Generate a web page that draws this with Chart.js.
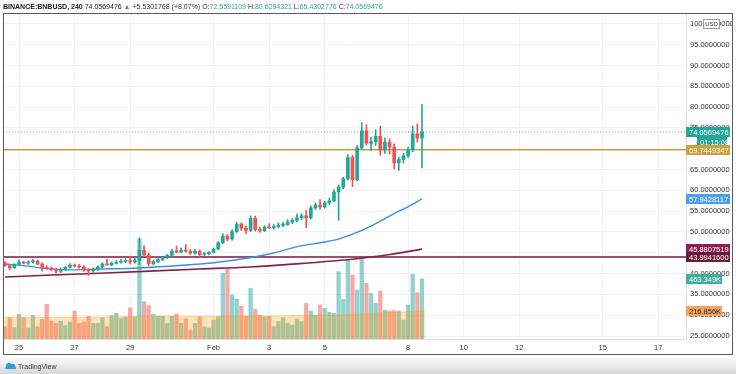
<!DOCTYPE html>
<html>
<head>
<meta charset="utf-8">
<script src="https://cdn.jsdelivr.net/npm/chart.js@4.4.0/dist/chart.umd.min.js"></script>
<style>
  html, body { margin: 0; padding: 0; background: #fff; }
  #wrap { width: 736px; height: 374px; }
</style>
</head>
<body>
<div id="wrap"><canvas id="bnbCanvas" width="736" height="374"></canvas></div>
<script>
// 240-minute candles, first one at Jan 24 12:00 (day -0.5, day 0 = Jan 25 00:00)
const firstCandleDay = -0.5;
const candleStepDays = 1 / 6;

const candleOpen = [
  42.6, 41.9, 41.4, 42.2, 42.7, 42.5, 42.8, 43.0, 42.3, 41.5,
  41.2, 40.9, 40.6, 41.0, 41.5, 42.0, 41.8, 41.6, 40.9, 40.7,
  41.1, 41.6, 42.3, 42.1, 42.5, 42.7, 42.9, 43.1, 42.8, 43.2,
  45.6, 44.5, 42.4, 42.9, 43.4, 43.9, 44.4, 45.4, 45.2, 45.6,
  45.4, 44.9, 45.4, 44.6, 44.8, 45.1, 45.9, 47.4, 49.0, 48.3,
  50.1, 51.9, 50.9, 50.4, 53.3, 50.6, 50.3, 51.2, 51.0, 51.3,
  51.6, 51.8, 52.4, 52.8, 53.4, 53.9, 53.4, 55.8, 56.5, 56.0,
  57.0, 57.5, 59.6, 60.8, 62.8, 67.9, 62.6, 70.2, 74.3, 71.3,
  71.7, 73.0, 69.7, 71.6, 70.4, 66.6, 67.4, 68.3, 69.8, 73.6,
  72.5591109
];
const candleHigh = [
  42.9, 42.1, 42.4, 43.3, 43.0, 43.1, 43.4, 43.2, 42.6, 41.9,
  41.6, 41.3, 41.3, 41.7, 42.4, 42.3, 42.2, 41.9, 41.2, 41.4,
  41.9, 42.6, 43.5, 42.8, 43.1, 43.4, 43.6, 44.2, 43.7, 48.6,
  46.7, 44.9, 43.2, 43.6, 44.1, 44.6, 45.8, 46.6, 46.2, 47.0,
  45.8, 45.8, 45.7, 45.1, 45.3, 46.2, 47.7, 49.6, 49.4, 50.5,
  52.4, 52.2, 51.4, 53.9, 53.8, 51.2, 51.5, 52.0, 51.8, 52.2,
  52.3, 53.0, 53.2, 54.3, 54.4, 55.2, 56.3, 57.0, 57.8, 57.4,
  58.2, 60.2, 61.3, 63.2, 68.6, 68.5, 70.8, 76.3, 75.8, 72.8,
  74.6, 75.4, 72.6, 72.4, 71.2, 68.0, 68.9, 70.4, 75.5, 76.0,
  80.6294321
];
const candleLow = [
  41.7, 40.9, 41.2, 42.0, 42.3, 42.2, 42.5, 42.1, 40.6, 41.0,
  40.7, 40.1, 40.2, 40.8, 41.3, 41.5, 41.3, 40.5, 39.6, 40.3,
  40.8, 41.4, 42.0, 41.9, 42.3, 42.5, 42.6, 42.3, 42.5, 42.2,
  44.2, 41.9, 42.1, 42.6, 43.1, 43.6, 44.2, 45.0, 45.0, 45.2,
  44.6, 44.7, 44.1, 44.3, 44.5, 44.9, 45.7, 47.2, 47.8, 48.0,
  49.8, 50.4, 49.6, 50.1, 50.2, 49.9, 50.1, 50.8, 50.7, 51.0,
  51.2, 51.6, 52.0, 52.5, 53.0, 51.0, 53.1, 55.4, 55.4, 55.7,
  56.6, 57.3, 52.8, 60.4, 62.5, 60.9, 62.3, 69.8, 70.9, 69.6,
  70.8, 68.4, 68.9, 68.7, 65.1, 64.8, 66.6, 67.9, 69.3, 71.6,
  65.4302776
];
const candleClose = [
  41.9, 41.4, 42.2, 42.7, 42.5, 42.8, 43.0, 42.3, 41.5, 41.2,
  40.9, 40.6, 41.0, 41.5, 42.0, 41.8, 41.6, 40.9, 40.7, 41.1,
  41.6, 42.3, 42.1, 42.5, 42.7, 42.9, 43.1, 42.8, 43.2, 45.6,
  44.5, 42.4, 42.9, 43.4, 43.9, 44.4, 45.4, 45.2, 45.6, 45.4,
  44.9, 45.4, 44.6, 44.8, 45.1, 45.9, 47.4, 49.0, 48.3, 50.1,
  51.9, 50.9, 50.4, 53.3, 50.6, 50.3, 51.2, 51.0, 51.3, 51.6,
  51.8, 52.4, 52.8, 53.4, 53.9, 53.4, 55.8, 56.5, 56.0, 57.0,
  57.5, 59.6, 60.8, 62.8, 67.9, 62.6, 70.2, 74.3, 71.3, 71.7,
  73.0, 69.7, 71.6, 70.4, 66.6, 67.4, 68.3, 69.8, 73.6, 72.5591109,
  74.0569476
];
// volume in thousands
const volumeK = [
  95, 164, 87, 190, 164, 84, 182, 95, 152, 267,
  139, 121, 139, 103, 131, 216, 121, 131, 175, 121,
  121, 164, 95, 180, 198, 157, 167, 241, 170, 770,
  287, 257, 190, 175, 175, 121, 175, 193, 121, 157,
  69, 121, 170, 95, 84, 146, 170, 506, 539, 339,
  306, 252, 175, 390, 229, 182, 170, 175, 95, 134,
  164, 121, 108, 154, 134, 275, 216, 182, 262, 236,
  206, 198, 519, 306, 609, 493, 377, 616, 429, 352,
  275, 370, 223, 216, 219, 216, 146, 262, 498, 357,
  463.349
];

// moving averages (day, value)
const blueMaDays = [-0.5, 0.3, 0.9, 1.7, 2.9, 4.1, 5.9, 7.0, 8.3, 9.2, 10.1, 11.0, 11.55, 12.27, 12.8, 13.24, 13.6, 13.96, 14.5];
const blueMaValues = [42.3, 41.8, 41.3, 40.9, 41.1, 41.3, 42.0, 42.6, 43.8, 45.0, 46.6, 47.6, 48.4, 50.2, 51.9, 53.5, 54.8, 55.9, 57.9428117];
const maroonMaDays = [-0.5, 2.9, 6.5, 8.3, 10.1, 11.9, 13.35, 14.5];
const maroonMaValues = [39.2, 40.1, 41.1, 41.6, 42.4, 43.4, 44.6, 45.8807519];
const volMaDays = [-0.58, 1, 3, 5, 7, 9, 11, 12.5, 13.5, 14.6];
const volMaValues = [168, 165, 170, 176, 175, 178, 182, 195, 205, 216.856];

const goldLevel = 69.7449347;
const maroonLevel = 43.99416;
const lastClose = 74.0569476;
const countdown = '01:15:08';

const xTickDays = [0, 2, 4, 7, 9, 11, 14, 16, 18, 21, 23];
const xTickLabels = ['25', '27', '29', 'Feb', '3', '5', '8', '10', '12', '15', '17'];
const priceTicks = [25, 30, 35, 40, 45, 50, 55, 60, 65, 70, 75, 80, 85, 90, 95, 100];

const xMin = -0.576, xMax = 24.0;
const TEAL = '#26a69a', RED = '#ef5350';
const FONT = '"Liberation Sans", Arial, sans-serif';

const candleDay = i => firstCandleDay + i * candleStepDays;
const isUp = i => candleClose[i] >= candleOpen[i];

const candleColors = candleOpen.map((o, i) => isUp(i) ? TEAL : RED);
const volumeColors = candleOpen.map((o, i) => isUp(i) ? 'rgba(38,166,154,0.5)' : 'rgba(239,83,80,0.5)');

function flatLine(v) {
  return [{ x: xMin, y: v }, { x: xMax, y: v }];
}

function drawTag(ctx, y, text, bg, fg, left, width) {
  let top = Math.round(y) - 5;
  ctx.fillStyle = bg;
  ctx.fillRect(left, top, width, 10);
  ctx.fillStyle = fg;
  ctx.font = '7.5px ' + FONT;
  ctx.textBaseline = 'middle';
  ctx.textAlign = 'left';
  ctx.fillText(text, left + 3, top + 5.5);
}

const tvDecor = {
  id: 'tvDecor',
  beforeDraw(chart) {
    const ctx = chart.ctx;
    ctx.save();
    ctx.fillStyle = '#fff';
    ctx.fillRect(0, 0, 736, 374);
    let g = ctx.createLinearGradient(0, 356, 0, 374);
    g.addColorStop(0, 'rgba(255,255,255,1)');
    g.addColorStop(1, 'rgba(214,214,214,1)');
    ctx.fillStyle = g;
    ctx.fillRect(0, 356, 736, 18);
    ctx.restore();
  },
  afterDraw(chart) {
    const ctx = chart.ctx;
    const y = chart.scales.y, y2 = chart.scales.y2;
    ctx.save();

    // price axis tags
    drawTag(ctx, y.getPixelForValue(lastClose), lastClose.toFixed(7), TEAL, '#fff', 686, 44);
    drawTag(ctx, y.getPixelForValue(lastClose) + 10, countdown, TEAL, '#fff', 697, 30);
    drawTag(ctx, y.getPixelForValue(goldLevel), goldLevel.toFixed(7), '#c9a23e', '#fff', 686, 44);
    drawTag(ctx, y.getPixelForValue(blueMaValues[blueMaValues.length - 1]), blueMaValues[blueMaValues.length - 1].toFixed(7), '#4aa0ee', '#fff', 686, 44);
    drawTag(ctx, y.getPixelForValue(maroonMaValues[maroonMaValues.length - 1]), maroonMaValues[maroonMaValues.length - 1].toFixed(7), '#8c1f50', '#fff', 686, 44);
    drawTag(ctx, y.getPixelForValue(maroonLevel), maroonLevel.toFixed(7), '#6c1a3c', '#fff', 686, 44);
    drawTag(ctx, y2.getPixelForValue(volumeK[volumeK.length - 1]), volumeK[volumeK.length - 1].toFixed(3) + 'K', '#3fae9e', '#fff', 686, 36);
    drawTag(ctx, y2.getPixelForValue(volMaValues[volMaValues.length - 1]), volMaValues[volMaValues.length - 1].toFixed(3) + 'K', '#f8a45c', '#2a2a2a', 686, 36);

    // USD box
    ctx.fillStyle = '#fff';
    ctx.fillRect(703, 19, 16, 9);
    ctx.strokeStyle = '#9a9a9a';
    ctx.lineWidth = 1;
    ctx.strokeRect(703.5, 19.5, 16, 9);
    ctx.fillStyle = '#333';
    ctx.font = '6px ' + FONT;
    ctx.textAlign = 'center';
    ctx.textBaseline = 'middle';
    ctx.fillText('USD', 711.5, 24.5);

    // outer frame
    ctx.strokeStyle = '#5a5a5a';
    ctx.lineWidth = 1;
    ctx.strokeRect(3.5, 13.5, 729, 341);

    // title line
    const parts = [
      ['BINANCE:BNBUSD, 240 ', '#131722', 'bold '],
      ['74.0569476 ', '#131722', ''],
      ['\u25B2 ', TEAL, ''],
      ['+5.5301768 (+8.07%) ', '#333', ''],
      ['O:', '#333', ''], ['72.5591109 ', TEAL, ''],
      ['H:', '#333', ''], ['80.6294321 ', TEAL, ''],
      ['L:', '#333', ''], ['65.4302776 ', TEAL, ''],
      ['C:', '#333', ''], ['74.0569476', TEAL, '']
    ];
    let tx = 3;
    ctx.textAlign = 'left';
    ctx.textBaseline = 'alphabetic';
    parts.forEach(p => {
      ctx.font = p[2] + '7px ' + FONT;
      ctx.fillStyle = p[1];
      ctx.fillText(p[0], tx, 9);
      tx += ctx.measureText(p[0]).width;
    });

    // TradingView logo
    ctx.fillStyle = '#2e9bdc';
    ctx.beginPath();
    ctx.arc(9, 366, 3, Math.PI, 0);
    ctx.arc(13, 366.5, 2.5, Math.PI * 1.2, 0);
    ctx.lineTo(16, 369);
    ctx.lineTo(5, 369);
    ctx.closePath();
    ctx.fill();
    ctx.fillStyle = '#333';
    ctx.font = '7px ' + FONT;
    ctx.fillText('TradingView', 18, 369);

    ctx.restore();
  }
};

const wickData = candleOpen.map((o, i) => ({ x: candleDay(i), y: [candleLow[i], candleHigh[i]] }));
const bodyData = candleOpen.map((o, i) => ({ x: candleDay(i), y: [candleOpen[i], candleClose[i]] }));
const volData = volumeK.map((v, i) => ({ x: candleDay(i), y: v }));

let bnbChart = new Chart(document.getElementById('bnbCanvas'), {
  type: 'bar',
  data: {
    datasets: [
      { type: 'bar', label: 'body', data: bodyData, backgroundColor: candleColors, barThickness: 3, minBarLength: 1, grouped: false, yAxisID: 'y', order: 0 },
      { type: 'bar', label: 'wick', data: wickData, backgroundColor: candleColors, barThickness: 1, grouped: false, yAxisID: 'y', order: 1 },
      { type: 'line', label: 'ma1', data: blueMaDays.map((d, i) => ({ x: d, y: blueMaValues[i] })), borderColor: '#3b8ee8', borderWidth: 1.4, pointRadius: 0, tension: 0.3, yAxisID: 'y', order: 2 },
      { type: 'line', label: 'ma2', data: maroonMaDays.map((d, i) => ({ x: d, y: maroonMaValues[i] })), borderColor: '#85204c', borderWidth: 1.6, pointRadius: 0, tension: 0.3, yAxisID: 'y', order: 3 },
      { type: 'line', label: 'gold', data: flatLine(goldLevel), borderColor: '#c9a23e', borderWidth: 1.5, pointRadius: 0, yAxisID: 'y', order: 4 },
      { type: 'line', label: 'level', data: flatLine(maroonLevel), borderColor: '#701a3e', borderWidth: 1.5, pointRadius: 0, yAxisID: 'y', order: 5 },
      { type: 'line', label: 'last', data: flatLine(lastClose), borderColor: 'rgba(38,166,154,0.8)', borderWidth: 1, borderDash: [1, 2], pointRadius: 0, yAxisID: 'y', order: 6 },
      { type: 'line', label: 'volma', data: volMaDays.map((d, i) => ({ x: d, y: volMaValues[i] })), borderColor: 'rgba(255,152,0,0.35)', backgroundColor: 'rgba(255,152,0,0.28)', borderWidth: 1, pointRadius: 0, fill: 'origin', yAxisID: 'y2', order: 7 },
      { type: 'bar', label: 'vol', data: volData, backgroundColor: volumeColors, barThickness: 3.6, grouped: false, yAxisID: 'y2', order: 8 }
    ]
  },
  options: {
    responsive: false,
    animation: false,
    layout: { padding: { left: 3, right: 4, top: 13, bottom: 20 } },
    plugins: { legend: { display: false }, tooltip: { enabled: false } },
    scales: {
      x: {
        type: 'linear', min: xMin, max: xMax, offset: false,
        afterBuildTicks: axis => { axis.ticks = xTickDays.map(v => ({ value: v })); },
        afterFit: axis => { axis.height = 15; },
        grid: { color: '#f1f2f5', drawTicks: false, offset: false },
        border: { color: '#dcdfe4' },
        ticks: {
          autoSkip: false, maxRotation: 0, padding: 4, color: '#333',
          font: { size: 7.5, family: FONT },
          callback: v => xTickLabels[xTickDays.indexOf(v)] || ''
        }
      },
      y: {
        position: 'right', min: 24.28, max: 102.64,
        afterBuildTicks: axis => { axis.ticks = priceTicks.map(v => ({ value: v })); },
        afterFit: axis => { axis.width = 46; },
        grid: { color: '#f1f2f5', drawTicks: false },
        border: { color: '#dcdfe4' },
        ticks: {
          padding: 4, color: '#333',
          font: { size: 7.5, family: FONT },
          callback: v => Number(v).toFixed(7)
        }
      },
      y2: { display: false, min: 0, max: 2512 }
    }
  },
  plugins: [tvDecor]
});
</script>
</body>
</html>
